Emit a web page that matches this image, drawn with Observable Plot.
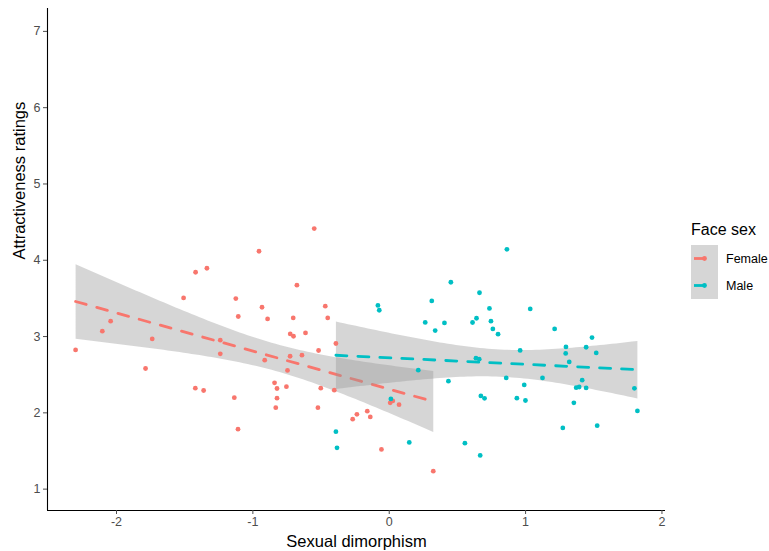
<!DOCTYPE html>
<html>
<head>
<meta charset="utf-8">
<script src="https://cdn.jsdelivr.net/npm/d3@7"></script>
<script src="https://cdn.jsdelivr.net/npm/@observablehq/plot@0.6"></script>
<style>
  html, body { margin: 0; padding: 0; background: white; }
  #wrap { position: relative; width: 769px; height: 551px; overflow: hidden; font-family: "Liberation Sans", Arial, sans-serif; }
  #legend { position: absolute; left: 688px; top: 218px; }
</style>
</head>
<body>
<div id="wrap">
  <div id="chart"></div>
  <div id="legend"></div>
</div>
<script>
// ---- data ----
const groups = ["Female", "Male"];
const groupColors = ["#F8766D", "#00BFC4"];

const femaleX = [-2.300, -2.104, -2.043, -1.787, -1.738, -1.508, -1.420, -1.337, -1.422, -1.361,
  -1.239, -1.239, -1.136, -1.125, -1.109, -1.107, -0.955, -0.933, -0.913, -0.892,
  -0.841, -0.823, -0.823, -0.832, -0.754, -0.746, -0.727, -0.726, -0.702, -0.704,
  -0.677, -0.640, -0.614, -0.550, -0.523, -0.518, -0.502, -0.469, -0.451, -0.403,
  -0.391, -0.268, -0.237, -0.161, -0.139, -0.057, 0.007, 0.026, 0.072, 0.323];
const femaleY = [2.825, 3.070, 3.201, 2.581, 2.969, 3.506, 3.843, 3.895, 2.323, 2.293,
  2.952, 2.773, 2.199, 3.498, 1.786, 3.263, 4.118, 3.384, 2.690, 3.231,
  2.393, 2.319, 2.192, 2.068, 2.343, 2.556, 2.742, 3.035, 3.004, 3.244,
  3.673, 2.756, 3.048, 4.415, 2.068, 2.817, 2.323, 3.398, 3.244, 2.297,
  2.909, 1.917, 1.980, 2.022, 1.947, 1.520, 2.131, 2.156, 2.107, 1.236];

const maleX = [-0.391, -0.383, -0.083, -0.073, 0.012, 0.147, 0.213, 0.264, 0.312, 0.337,
  0.405, 0.434, 0.452, 0.555, 0.611, 0.640, 0.636, 0.660, 0.662, 0.667,
  0.672, 0.699, 0.735, 0.746, 0.760, 0.798, 0.863, 0.858, 0.936, 0.960,
  0.990, 0.999, 1.034, 1.124, 1.213, 1.273, 1.296, 1.294, 1.320, 1.354,
  1.371, 1.393, 1.415, 1.444, 1.444, 1.487, 1.518, 1.525, 1.798, 1.820];
const maleY = [1.753, 1.541, 3.408, 3.345, 2.183, 1.612, 2.559, 3.185, 3.467, 3.079,
  3.179, 2.415, 3.712, 1.603, 3.184, 3.240, 2.716, 2.703, 3.574, 1.442,
  2.222, 2.190, 3.369, 3.201, 3.100, 3.031, 4.144, 2.458, 2.192, 2.818,
  2.366, 2.162, 3.362, 2.458, 3.100, 1.802, 2.864, 2.779, 2.668, 2.131,
  2.330, 2.339, 2.428, 2.860, 2.327, 2.987, 2.786, 1.832, 2.321, 2.025];

const xTicks = [-2, -1, 0, 1, 2];
const yTicks = [1, 2, 3, 4, 5, 6, 7];
const xDomain = [-2.506, 2.026];
const yDomain = [0.72, 7.3];
const xLabel = "Sexual dimorphism";
const yLabel = "Attractiveness ratings";
const legendTitle = "Face sex";

// ---- table ----
const rows = [
  ...femaleX.map((x, i) => ({sex: "Female", x, y: femaleY[i]})),
  ...maleX.map((x, i) => ({sex: "Male", x, y: maleY[i]}))
];

const chart = Plot.plot({
  width: 769,
  height: 551,
  marginLeft: 47,
  marginRight: 104,
  marginTop: 8,
  marginBottom: 41,
  style: {fontFamily: "'Liberation Sans', Arial, sans-serif", fontSize: "12.5px", background: "white"},
  x: {domain: xDomain},
  y: {domain: yDomain},
  color: {domain: groups, range: groupColors},
  marks: [
    Plot.linearRegressionY(rows, {
      x: "x", y: "y", stroke: "sex",
      fill: "#999999", fillOpacity: 0.4,
      strokeWidth: 2.8, strokeDasharray: "11 11", ci: 0.95
    }),
    Plot.dot(rows, {x: "x", y: "y", fill: "sex", r: 2.4}),
    Plot.ruleX([xDomain[0]], {stroke: "black", strokeWidth: 1.1}),
    Plot.ruleY([yDomain[0]], {stroke: "black", strokeWidth: 1.1}),
    Plot.axisX({ticks: xTicks, tickSize: 4, tickPadding: 3, label: null,
      tickFormat: d => String(d), color: "#4d4d4d", fontSize: 12.5}),
    Plot.axisY({ticks: yTicks, tickSize: 4, tickPadding: 3, label: null,
      tickFormat: d => String(d), color: "#4d4d4d", fontSize: 12.5}),
    Plot.text([xLabel], {frameAnchor: "bottom", dy: 36, text: d => d, fontSize: 16.5, fill: "black"}),
    Plot.text([yLabel], {frameAnchor: "left", dx: -28, rotate: -90, text: d => d, fontSize: 16.5, fill: "black"})
  ]
});
document.getElementById("chart").appendChild(chart);

// ---- legend ----
const lg = d3.select("#legend").append("svg").attr("width", 81).attr("height", 90)
  .style("font-family", "'Liberation Sans', Arial, sans-serif");
lg.append("text").attr("x", 3).attr("y", 17).attr("font-size", 16).attr("fill", "black").text(legendTitle);
groups.forEach((g, i) => {
  const y0 = 27 + i * 27;
  lg.append("rect").attr("x", 3).attr("y", y0).attr("width", 27).attr("height", 27).attr("fill", "#d6d6d6");
  lg.append("line").attr("x1", 6).attr("x2", 17).attr("y1", y0 + 13.5).attr("y2", y0 + 13.5)
    .attr("stroke", groupColors[i]).attr("stroke-width", 2.8);
  lg.append("circle").attr("cx", 16.5).attr("cy", y0 + 13.5).attr("r", 2.4).attr("fill", groupColors[i]);
  lg.append("text").attr("x", 38).attr("y", y0 + 13.5).attr("dy", "0.35em").attr("font-size", 12.5)
    .attr("fill", "black").text(g);
});
</script>
</body>
</html>
